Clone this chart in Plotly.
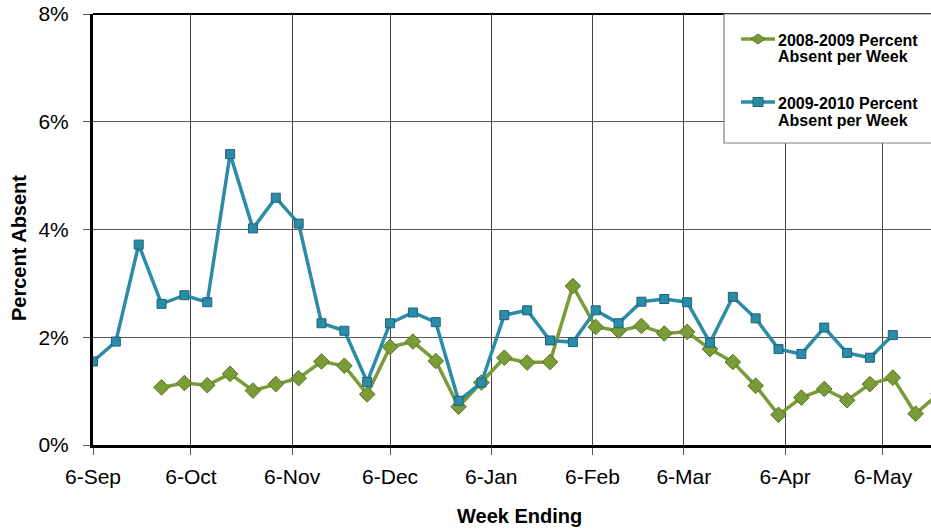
import plotly.graph_objects as go

week_ending = [
    "2009-09-06", "2009-09-13", "2009-09-20", "2009-09-27", "2009-10-04", "2009-10-11",
    "2009-10-18", "2009-10-25", "2009-11-01", "2009-11-08", "2009-11-15", "2009-11-22",
    "2009-11-29", "2009-12-06", "2009-12-13", "2009-12-20", "2009-12-27", "2010-01-03",
    "2010-01-10", "2010-01-17", "2010-01-24", "2010-01-31", "2010-02-07", "2010-02-14",
    "2010-02-21", "2010-02-28", "2010-03-07", "2010-03-14", "2010-03-21", "2010-03-28",
    "2010-04-04", "2010-04-11", "2010-04-18", "2010-04-25", "2010-05-02", "2010-05-09",
    "2010-05-16", "2010-05-23",
]

absent_2008_2009 = [
    None, None, None, 1.07, 1.15, 1.11, 1.32, 1.01, 1.13, 1.24, 1.55, 1.47,
    0.94, 1.82, 1.92, 1.56, 0.71, 1.16, 1.62, 1.53, 1.54, 2.95, 2.19, 2.12,
    2.21, 2.07, 2.10, 1.78, 1.54, 1.10, 0.56, 0.88, 1.04, 0.83, 1.13, 1.25,
    0.58, 0.95,
]

absent_2009_2010 = [
    1.55, 1.92, 3.72, 2.62, 2.78, 2.65, 5.40, 4.02, 4.59, 4.11, 2.26, 2.12,
    1.17, 2.26, 2.46, 2.28, 0.82, 1.16, 2.41, 2.50, 1.94, 1.91, 2.50, 2.26,
    2.66, 2.71, 2.65, 1.90, 2.75, 2.35, 1.78, 1.69, 2.18, 1.71, 1.62, 2.04,
    None, None,
]

series_names = [["2008-2009 Percent", "Absent per Week"],
                ["2009-2010 Percent", "Absent per Week"]]

x_tick_dates = ["2009-09-06", "2009-10-06", "2009-11-06", "2009-12-06", "2010-01-06",
                "2010-02-06", "2010-03-06", "2010-04-06", "2010-05-06"]
x_tick_labels = ["6-Sep", "6-Oct", "6-Nov", "6-Dec", "6-Jan", "6-Feb", "6-Mar", "6-Apr", "6-May"]
y_tick_vals = [0, 2, 4, 6, 8]
y_tick_labels = ["0%", "2%", "4%", "6%", "8%"]

FONT = "Liberation Sans, Arial, sans-serif"
GREEN = "#7A9B38"
GREEN_DARK = "#56761f"
BLUE = "#2C8BA6"
BLUE_DARK = "#1B6479"

W, H = 931, 531
PL, PR, PT, PB = 93, 931, 14, 445


def px_x(p):
    return (p - PL) / (PR - PL)


def px_y(p):
    return (PB - p) / (PB - PT)


fig = go.Figure()
fig.add_trace(go.Scatter(
    x=week_ending, y=absent_2008_2009, mode="lines+markers",
    name=" ".join(series_names[0]),
    line=dict(color=GREEN, width=3.5),
    marker=dict(symbol="diamond", size=12, color=GREEN, line=dict(color=GREEN_DARK, width=1)),
    connectgaps=False, showlegend=False,
))
fig.add_trace(go.Scatter(
    x=week_ending, y=absent_2009_2010, mode="lines+markers",
    name=" ".join(series_names[1]),
    line=dict(color=BLUE, width=3.5),
    marker=dict(symbol="square", size=9, color=BLUE, line=dict(color=BLUE_DARK, width=1)),
    connectgaps=False, showlegend=False,
))

shapes = [
    dict(type="line", xref="paper", yref="paper", x0=0, x1=1, y0=1, y1=1,
         line=dict(color="black", width=2)),
    dict(type="rect", xref="paper", yref="paper", x0=px_x(724), x1=px_x(960),
         y0=px_y(143), y1=px_y(14), fillcolor="white", line=dict(color="#7f7f7f", width=1.2),
         layer="above"),
]
annotations = []
legend_rows = [(39, 40.5, GREEN, GREEN_DARK, "M -7 0 L 0 5 L 7 0 L 0 -5 Z"),
               (102, 103.5, BLUE, BLUE_DARK, "M -5 -4.5 L 5 -4.5 L 5 4.5 L -5 4.5 Z")]
for (ly, ty, col, dcol, path), lines in zip(legend_rows, series_names):
    shapes.append(dict(type="line", xref="paper", yref="paper", x0=px_x(741), x1=px_x(775),
                       y0=px_y(ly), y1=px_y(ly), line=dict(color=col, width=3.5), layer="above"))
    shapes.append(dict(type="path", xref="paper", yref="paper", xsizemode="pixel",
                       ysizemode="pixel", xanchor=px_x(758), yanchor=px_y(ly), path=path,
                       fillcolor=col, line=dict(color=dcol, width=1), layer="above"))
    for i, t in enumerate(lines):
        annotations.append(dict(text=f"<b>{t}</b>", xref="paper", yref="paper",
                                x=px_x(776), y=px_y(ty + i * 16.5), xanchor="left",
                                yanchor="middle", showarrow=False,
                                font=dict(family=FONT, size=16, color="black")))

annotations += [
    dict(text="<b>Percent Absent</b>", xref="paper", yref="paper",
         x=px_x(19), y=px_y(248), textangle=-90, showarrow=False,
         font=dict(family=FONT, size=20, color="black"), xanchor="center", yanchor="middle"),
    dict(text="<b>Week Ending</b>", xref="paper", yref="paper",
         x=px_x(519), y=px_y(516), showarrow=False,
         font=dict(family=FONT, size=20, color="black"), xanchor="center", yanchor="middle"),
]

fig.update_layout(
    width=W, height=H,
    margin=dict(l=PL, r=W - PR, t=PT, b=H - PB),
    paper_bgcolor="white", plot_bgcolor="white",
    font=dict(family=FONT, color="black"),
    showlegend=False,
    xaxis=dict(
        type="date",
        range=["2009-09-06", "2010-05-20 17:00"],
        tickvals=x_tick_dates, ticktext=x_tick_labels,
        tickfont=dict(family=FONT, size=21, color="black"),
        showgrid=True, gridcolor="#444444", gridwidth=1,
        showline=True, linecolor="black", linewidth=3,
        ticks="outside", ticklen=7, tickcolor="#555555", tickwidth=1,
        ticklabelstandoff=4,
        zeroline=False,
    ),
    yaxis=dict(
        range=[0, 8],
        tickvals=y_tick_vals, ticktext=y_tick_labels,
        tickfont=dict(family=FONT, size=21, color="black"),
        showgrid=True, gridcolor="#555555", gridwidth=1,
        showline=True, linecolor="black", linewidth=3,
        ticks="outside", ticklen=7, tickcolor="#555555", tickwidth=1,
        ticklabelstandoff=10,
        zeroline=False,
    ),
    shapes=shapes,
    annotations=annotations,
)

fig.write_html(
    "out.html",
    config={"displayModeBar": False},
    post_script="document.body.style.margin='0';document.body.style.overflow='hidden';",
)
